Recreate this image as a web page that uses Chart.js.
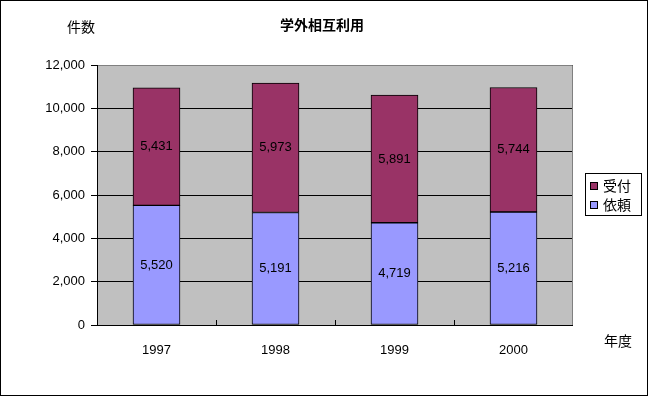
<!DOCTYPE html>
<html>
<head>
<meta charset="utf-8">
<script src="https://cdn.jsdelivr.net/npm/chart.js@4"></script>
<style>
  html, body { margin: 0; padding: 0; background: #fff; }
  #wrap { width: 649px; height: 397px; }
</style>
</head>
<body>
<div id="wrap"><canvas id="chart" width="649" height="397"></canvas></div>
<script>
const years = ['1997', '1998', '1999', '2000'];
const irai = [5520, 5191, 4719, 5216];      // 依頼
const uketsuke = [5431, 5973, 5891, 5744];  // 受付
const yTicks = [0, 2000, 4000, 6000, 8000, 10000, 12000];

const FONT = '"Liberation Sans", "Noto Sans CJK JP", sans-serif';

// frame, plot background, axis titles, legend, value labels
const decor = {
  id: 'decor',
  beforeDraw(chart) {
    const { ctx, chartArea: a } = chart;
    ctx.save();
    ctx.fillStyle = '#fff';
    ctx.fillRect(0, 0, chart.width, chart.height);
    ctx.fillStyle = '#c0c0c0';
    ctx.fillRect(a.left, a.top, a.right - a.left, a.bottom - a.top);
    ctx.restore();
  },
  afterDraw(chart) {
    const { ctx, chartArea: a } = chart;
    ctx.save();
    // plot border (gray top/right)
    ctx.strokeStyle = '#808080';
    ctx.lineWidth = 1;
    ctx.beginPath();
    ctx.moveTo(a.left, a.top + 0.5);
    ctx.lineTo(a.right - 0.5, a.top + 0.5);
    ctx.lineTo(a.right - 0.5, a.bottom);
    ctx.stroke();
    // axes
    ctx.strokeStyle = '#000';
    ctx.beginPath();
    ctx.moveTo(a.left + 0.5, a.top);
    ctx.lineTo(a.left + 0.5, a.bottom + 0.5);
    ctx.lineTo(a.right, a.bottom + 0.5);
    ctx.stroke();
    // inward ticks at category boundaries
    const step = (a.right - a.left) / years.length;
    ctx.beginPath();
    for (let i = 1; i < years.length; i++) {
      const x = Math.round(a.left + step * i) + 0.5;
      ctx.moveTo(x, a.bottom);
      ctx.lineTo(x, a.bottom - 5);
    }
    ctx.stroke();
    // outer frame
    ctx.strokeRect(0.5, 0.5, 647, 395);

    // title and axis titles
    ctx.fillStyle = '#000';
    ctx.textBaseline = 'middle';
    ctx.textAlign = 'center';
    ctx.font = 'bold 14px ' + FONT;
    ctx.fillText('学外相互利用', 322, 26);
    ctx.font = '14px ' + FONT;
    ctx.fillText('件数', 81, 28);
    ctx.fillText('年度', 618, 342);

    // value labels
    ctx.font = '13px ' + FONT;
    chart.data.datasets.forEach((ds, di) => {
      chart.getDatasetMeta(di).data.forEach((bar, i) => {
        const mid = (bar.y + bar.base) / 2;
        ctx.fillText(ds.data[i].toLocaleString('en-US'), bar.x, mid);
      });
    });

    // legend
    const lx = 585, ly = 173;
    ctx.strokeStyle = '#000';
    ctx.strokeRect(lx + 0.5, ly + 0.5, 56, 42);
    ctx.textAlign = 'left';
    ctx.font = '14px ' + FONT;
    const order = [1, 0];
    order.forEach((di, k) => {
      const ds = chart.data.datasets[di];
      const y = ly + 13 + k * 19;
      ctx.fillStyle = ds.backgroundColor;
      ctx.fillRect(lx + 5, y - 4, 8, 8);
      ctx.strokeRect(lx + 5.5, y - 3.5, 7, 7);
      ctx.fillStyle = '#000';
      ctx.fillText(ds.label, lx + 18, y + 1);
    });
    ctx.restore();
  }
};

new Chart(document.getElementById('chart'), {
  type: 'bar',
  data: {
    labels: years,
    datasets: [
      {
        label: '依頼',
        data: irai,
        backgroundColor: '#9999ff',
        borderColor: '#000',
        borderWidth: 1,
        borderSkipped: false
      },
      {
        label: '受付',
        data: uketsuke,
        backgroundColor: '#993366',
        borderColor: '#000',
        borderWidth: 1,
        borderSkipped: false
      }
    ]
  },
  options: {
    responsive: false,
    animation: false,
    devicePixelRatio: 1,
    layout: { padding: { top: 65, right: 76, bottom: 0, left: 0 } },
    datasets: { bar: { barThickness: 47 } },
    plugins: {
      legend: { display: false },
      title: { display: false },
      tooltip: { enabled: false }
    },
    scales: {
      x: {
        stacked: true,
        border: { display: false },
        grid: { display: false },
        ticks: {
          color: '#000',
          padding: 10,
          maxRotation: 0,
          font: { family: FONT, size: 13 }
        },
        afterFit(scale) { scale.height = 72; }
      },
      y: {
        stacked: true,
        min: 0,
        max: 12000,
        border: { display: false },
        afterBuildTicks(scale) { scale.ticks = yTicks.map(v => ({ value: v })); },
        grid: {
          color: '#000',
          lineWidth: 1,
          tickLength: 6,
          tickColor: '#000'
        },
        ticks: {
          color: '#000',
          padding: 6,
          font: { family: FONT, size: 13 },
          callback: v => v.toLocaleString('en-US')
        },
        afterFit(scale) { scale.width = 97; }
      }
    }
  },
  plugins: [decor]
});
</script>
</body>
</html>
